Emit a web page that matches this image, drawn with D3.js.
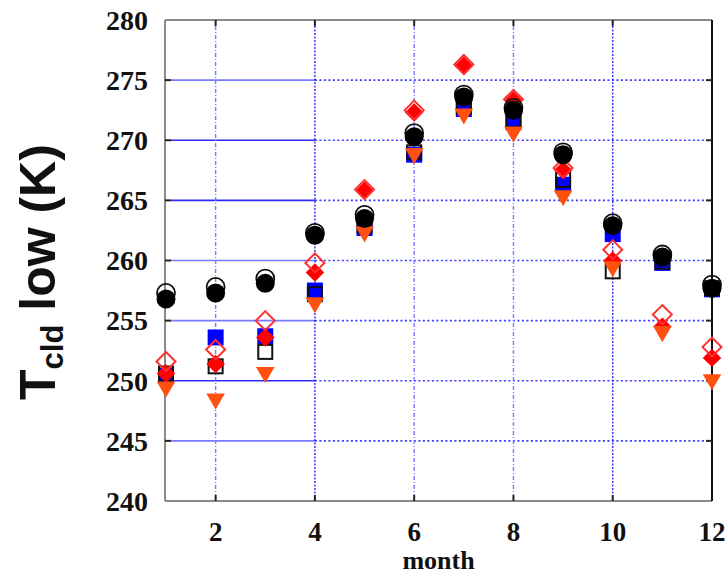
<!DOCTYPE html>
<html><head><meta charset="utf-8">
<script src="https://cdn.jsdelivr.net/npm/d3@7/dist/d3.min.js"></script>
<style>body{margin:0;background:#fff}svg{display:block}</style>
</head><body>
<svg id="c" width="728" height="574"></svg>
<script>
const months = [1,2,3,4,5,6,7,8,9,10,11,12];
const circleFilled  = [256.8,257.3,258.1,262.1,263.5,270.3,273.6,272.5,268.8,262.9,260.3,257.7];
const circleOpen    = [257.3,257.8,258.5,262.3,263.8,270.6,273.8,272.7,269.0,263.1,260.5,258.0];
const squareBlue    = [250.4,253.6,253.7,257.5,262.7,268.8,272.6,271.5,266.3,262.2,259.8,257.6];
const squareOpen    = [250.6,251.2,252.4,257.2,262.9,269.0,272.8,271.7,266.7,259.1,259.9,257.7];
const diamondFilled = [250.6,251.4,253.6,259.0,265.8,272.3,276.2,273.3,267.5,260.0,254.5,251.9];
const diamondOpen   = [251.6,252.6,255.0,259.8,265.9,272.5,276.3,273.4,267.7,260.9,255.5,252.8];
const triangleDown  = [249.5,248.5,250.7,256.5,262.4,268.9,272.2,270.7,265.4,259.5,254.1,250.1];
const yTicks = [240,245,250,255,260,265,270,275,280];
const xTicks = [2,4,6,8,10,12];
const yGrid = [245,250,255,260,265,270,275];
const xGrid = [2,4,6,8,10];

const svg = d3.select('#c');
const x = d3.scaleLinear().domain([1,12]).range([166,712]);
const y = d3.scaleLinear().domain([240,280]).range([501,20]);
const L = 165, R = x(12), T = y(280), B = y(240);

// grid
const g = svg.append('g');
g.selectAll('.hs').data(yGrid).join('line')
  .attr('x1', L+6).attr('x2', x(4)).attr('y1', d=>y(d)).attr('y2', d=>y(d))
  .attr('stroke', d => (d===250||d===265||d===270) ? '#2a2aff' : '#7a7aff').attr('stroke-width', 1.6);
g.selectAll('.hd').data(yGrid).join('line')
  .attr('x1', x(4)).attr('x2', R-6).attr('y1', d=>y(d)).attr('y2', d=>y(d))
  .attr('stroke', '#3a3aff').attr('stroke-width', 1.6).attr('stroke-dasharray','2,2.5');
g.selectAll('.vd').data(xGrid).join('line')
  .attr('x1', d=>x(d)).attr('x2', d=>x(d)).attr('y1', T+6).attr('y2', B-6)
  .attr('stroke', d => (d===4||d===10) ? '#2a2aff' : '#7a7aff').attr('stroke-width', 1.4)
  .attr('stroke-dasharray', d => (d===4||d===10) ? '2,1.5' : '4,2,1,2');

// frame
svg.append('line').attr('x1',L).attr('x2',R).attr('y1',T).attr('y2',T).attr('stroke','#8a8a8a').attr('stroke-width',2);
svg.append('line').attr('x1',L).attr('x2',R).attr('y1',B).attr('y2',B).attr('stroke','#8a8a8a').attr('stroke-width',2);
svg.append('line').attr('x1',L).attr('x2',L).attr('y1',T).attr('y2',B).attr('stroke','#8a8a8a').attr('stroke-width',2);
svg.append('line').attr('x1',R).attr('x2',R).attr('y1',T).attr('y2',B).attr('stroke','#111').attr('stroke-width',2);

// ticks
const tk = svg.append('g').attr('stroke','#222').attr('stroke-width',2);
yTicks.slice(1,-1).forEach(v=>{
  tk.append('line').attr('x1',L).attr('x2',L+6).attr('y1',y(v)).attr('y2',y(v));
  tk.append('line').attr('x1',R-6).attr('x2',R).attr('y1',y(v)).attr('y2',y(v));
});
xGrid.forEach(v=>{
  tk.append('line').attr('x1',x(v)).attr('x2',x(v)).attr('y1',T).attr('y2',T+6);
  tk.append('line').attr('x1',x(v)).attr('x2',x(v)).attr('y1',B-6).attr('y2',B);
});

// tick labels
const serif = '"Liberation Serif","Times New Roman",serif';
svg.append('g').selectAll('text').data(yTicks).join('text')
  .attr('x', 148).attr('y', d=>y(d)).attr('dy','0.35em').attr('text-anchor','end')
  .attr('font-family', serif).attr('font-weight','bold').attr('font-size',28).attr('fill','#111')
  .text(d=>d);
svg.append('g').selectAll('text').data(xTicks).join('text')
  .attr('x', d=>x(d)).attr('y', 541).attr('text-anchor','middle')
  .attr('font-family', serif).attr('font-weight','bold').attr('font-size',27).attr('fill','#111')
  .text(d=>d);
svg.append('text').attr('x', (L+R)/2).attr('y', 569).attr('text-anchor','middle')
  .attr('font-family', serif).attr('font-weight','bold').attr('font-size',26).attr('fill','#111')
  .text('month');

// y title
const sans = '"Liberation Sans",Arial,sans-serif';
const yt = svg.append('text').attr('transform','translate(55,400) rotate(-90)')
  .attr('font-family', sans).attr('font-weight','bold').attr('font-size',50).attr('fill','#111');
yt.append('tspan').text('T');
yt.append('tspan').attr('font-size',31).attr('dy',8).text('cld');
yt.append('tspan').attr('dy',-8).text(' low ');
yt.append('tspan').text('(K)');

// markers
const pts = arr => arr.map((v,i)=>({m:months[i], v}));
const P = svg.append('g');
// blue squares
P.append('g').selectAll('rect').data(pts(squareBlue)).join('rect')
  .attr('x', d=>x(d.m)-8).attr('y', d=>y(d.v)-8).attr('width',16).attr('height',16).attr('fill','#0000ff');
// open squares
P.append('g').selectAll('rect').data(pts(squareOpen)).join('rect')
  .attr('x', d=>x(d.m)-7).attr('y', d=>y(d.v)-7).attr('width',14).attr('height',14)
  .attr('fill','none').attr('stroke','#111').attr('stroke-width',2);
// filled diamonds
P.append('g').selectAll('path').data(pts(diamondFilled)).join('path')
  .attr('transform', d=>`translate(${x(d.m)},${y(d.v)}) rotate(45)`)
  .attr('d', d3.symbol().type(d3.symbolSquare).size(170)).attr('fill','#ff0000');
// open diamonds
P.append('g').selectAll('path').data(pts(diamondOpen)).join('path')
  .attr('transform', d=>`translate(${x(d.m)},${y(d.v)}) rotate(45)`)
  .attr('d', d3.symbol().type(d3.symbolSquare).size(180)).attr('fill','none')
  .attr('stroke','#ff3030').attr('stroke-width',2);
// down triangles
P.append('g').selectAll('path').data(pts(triangleDown)).join('path')
  .attr('transform', d=>`translate(${x(d.m)},${y(d.v)}) rotate(180)`)
  .attr('d', d3.symbol().type(d3.symbolTriangle).size(150)).attr('fill','#ff5010');
// open circles
P.append('g').selectAll('circle').data(pts(circleOpen)).join('circle')
  .attr('cx', d=>x(d.m)).attr('cy', d=>y(d.v)).attr('r',9)
  .attr('fill','none').attr('stroke','#111').attr('stroke-width',1.8);
// filled circles
P.append('g').selectAll('circle').data(pts(circleFilled)).join('circle')
  .attr('cx', d=>x(d.m)).attr('cy', d=>y(d.v)).attr('r',9.5).attr('fill','#000');
</script>
</body></html>
